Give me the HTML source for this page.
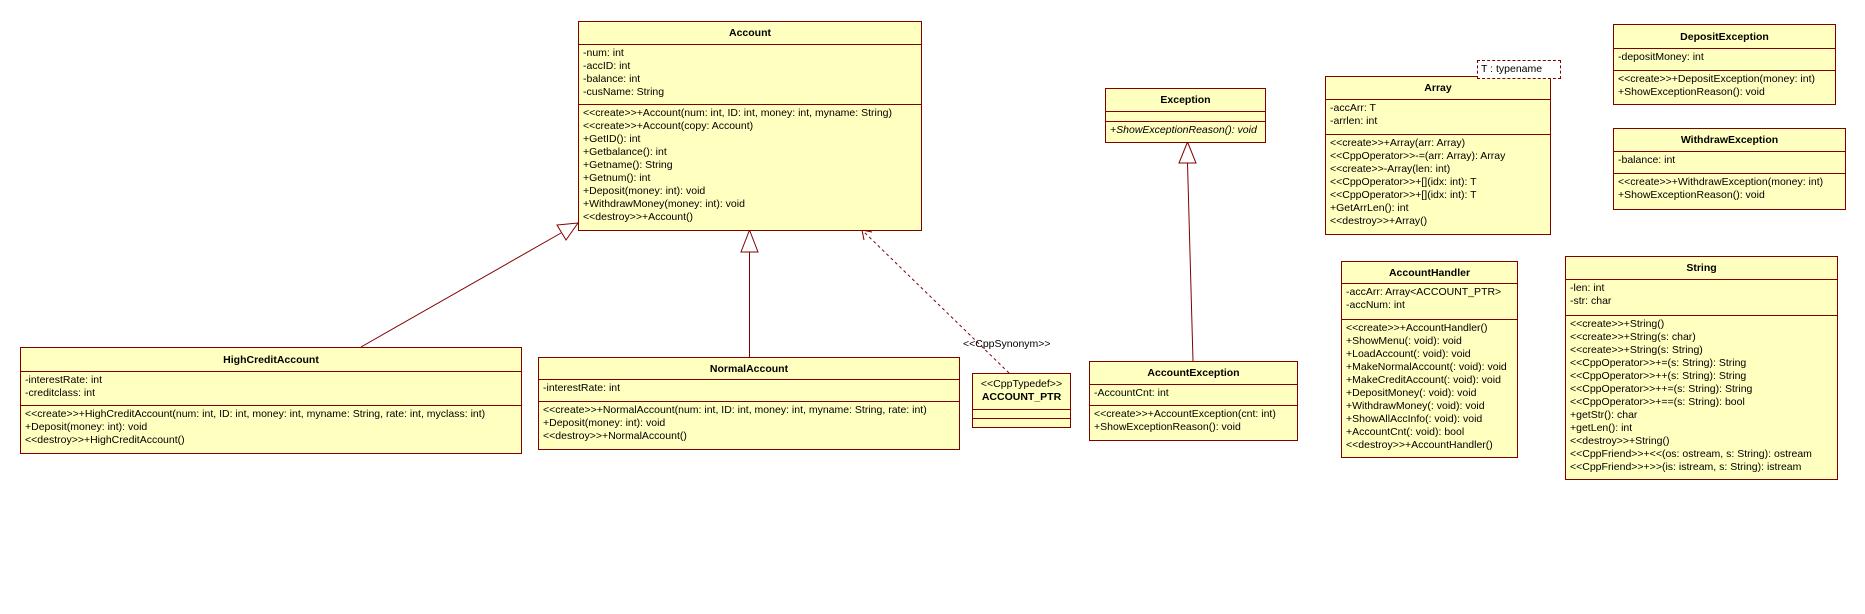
<!DOCTYPE html>
<html><head><meta charset="utf-8"><style>
html,body{margin:0;padding:0;background:#fff;}
body{width:1865px;height:614px;position:relative;overflow:hidden;font-family:"Liberation Sans",Tahoma,sans-serif;font-size:10.5px;color:#000;}
.b{position:absolute;box-sizing:border-box;border:1px solid #800000;background:#ffffc0;}
.b>div{box-sizing:border-box;overflow:hidden;white-space:nowrap;}
.h{text-align:center;font-weight:bold;display:flex;align-items:center;justify-content:center;}
.c{border-top:1px solid #800000;padding:2px 0 0 4px;line-height:13px;}
i{font-style:italic;}
svg{position:absolute;left:0;top:0;}
</style></head><body>
<svg width="1865" height="614">
<g stroke="#800000" fill="none" stroke-width="1">
<line x1="361" y1="347" x2="561" y2="233"/>
<polygon points="578,223 557,225 566,240" fill="#fff"/>
<line x1="749.5" y1="252" x2="749.5" y2="357"/>
<polygon points="749.5,230 741,252 758,252" fill="#fff"/>
<line x1="1187.5" y1="163" x2="1193" y2="361"/>
<polygon points="1187.5,142 1179,163 1196,163" fill="#fff"/>
<line x1="1009" y1="373" x2="862" y2="230" stroke-dasharray="3,3"/>
<polyline points="864,240 862,230 872,232"/>
</g>
<text x="963" y="347" font-family="Liberation Sans,sans-serif" font-size="10.5">&lt;&lt;CppSynonym&gt;&gt;</text>
</svg>

<div class="b" style="left:578px;top:21px;width:344px;height:210px">
<div class="h" style="height:22px">Account</div>
<div class="c" style="height:60px">-num: int<br>-accID: int<br>-balance: int<br>-cusName: String</div>
<div class="c">&lt;&lt;create&gt;&gt;+Account(num: int, ID: int, money: int, myname: String)<br>&lt;&lt;create&gt;&gt;+Account(copy: Account)<br>+GetID(): int<br>+Getbalance(): int<br>+Getname(): String<br>+Getnum(): int<br>+Deposit(money: int): void<br>+WithdrawMoney(money: int): void<br>&lt;&lt;destroy&gt;&gt;+Account()</div>
</div>

<div class="b" style="left:20px;top:347px;width:502px;height:107px">
<div class="h" style="height:23px">HighCreditAccount</div>
<div class="c" style="height:34px">-interestRate: int<br>-creditclass: int</div>
<div class="c">&lt;&lt;create&gt;&gt;+HighCreditAccount(num: int, ID: int, money: int, myname: String, rate: int, myclass: int)<br>+Deposit(money: int): void<br>&lt;&lt;destroy&gt;&gt;+HighCreditAccount()</div>
</div>

<div class="b" style="left:538px;top:357px;width:422px;height:93px">
<div class="h" style="height:21px">NormalAccount</div>
<div class="c" style="height:22px">-interestRate: int</div>
<div class="c">&lt;&lt;create&gt;&gt;+NormalAccount(num: int, ID: int, money: int, myname: String, rate: int)<br>+Deposit(money: int): void<br>&lt;&lt;destroy&gt;&gt;+NormalAccount()</div>
</div>

<div class="b" style="left:972px;top:373px;width:99px;height:55px">
<div style="height:35px;text-align:center;line-height:13px;padding-top:4px"><span style="font-weight:normal">&lt;&lt;CppTypedef&gt;&gt;</span><br><b>ACCOUNT_PTR</b></div>
<div class="c" style="height:9px;padding:0"></div>
<div class="c" style="padding:0"></div>
</div>

<div class="b" style="left:1105px;top:88px;width:161px;height:55px">
<div class="h" style="height:22px">Exception</div>
<div class="c" style="height:10px;padding:0"></div>
<div class="c"><i>+ShowExceptionReason(): void</i></div>
</div>

<div class="b" style="left:1325px;top:76px;width:226px;height:159px">
<div class="h" style="height:22px">Array</div>
<div class="c" style="height:35px">-accArr: T<br>-arrlen: int</div>
<div class="c">&lt;&lt;create&gt;&gt;+Array(arr: Array)<br>&lt;&lt;CppOperator&gt;&gt;-=(arr: Array): Array<br>&lt;&lt;create&gt;&gt;-Array(len: int)<br>&lt;&lt;CppOperator&gt;&gt;+[](idx: int): T<br>&lt;&lt;CppOperator&gt;&gt;+[](idx: int): T<br>+GetArrLen(): int<br>&lt;&lt;destroy&gt;&gt;+Array()</div>
</div>
<div style="position:absolute;left:1477px;top:60px;width:84px;height:19px;box-sizing:border-box;border:1px dashed #800000;background:#fff;line-height:17px;padding-left:3px;white-space:nowrap">T : typename</div>

<div class="b" style="left:1089px;top:361px;width:209px;height:80px">
<div class="h" style="height:22px">AccountException</div>
<div class="c" style="height:21px">-AccountCnt: int</div>
<div class="c">&lt;&lt;create&gt;&gt;+AccountException(cnt: int)<br>+ShowExceptionReason(): void</div>
</div>

<div class="b" style="left:1341px;top:261px;width:177px;height:197px">
<div class="h" style="height:21px">AccountHandler</div>
<div class="c" style="height:36px">-accArr: Array&lt;ACCOUNT_PTR&gt;<br>-accNum: int</div>
<div class="c">&lt;&lt;create&gt;&gt;+AccountHandler()<br>+ShowMenu(: void): void<br>+LoadAccount(: void): void<br>+MakeNormalAccount(: void): void<br>+MakeCreditAccount(: void): void<br>+DepositMoney(: void): void<br>+WithdrawMoney(: void): void<br>+ShowAllAccInfo(: void): void<br>+AccountCnt(: void): bool<br>&lt;&lt;destroy&gt;&gt;+AccountHandler()</div>
</div>

<div class="b" style="left:1613px;top:24px;width:223px;height:81px">
<div class="h" style="height:23px">DepositException</div>
<div class="c" style="height:22px">-depositMoney: int</div>
<div class="c">&lt;&lt;create&gt;&gt;+DepositException(money: int)<br>+ShowExceptionReason(): void</div>
</div>

<div class="b" style="left:1613px;top:128px;width:233px;height:82px">
<div class="h" style="height:22px">WithdrawException</div>
<div class="c" style="height:22px">-balance: int</div>
<div class="c">&lt;&lt;create&gt;&gt;+WithdrawException(money: int)<br>+ShowExceptionReason(): void</div>
</div>

<div class="b" style="left:1565px;top:256px;width:273px;height:224px">
<div class="h" style="height:22px">String</div>
<div class="c" style="height:36px">-len: int<br>-str: char</div>
<div class="c">&lt;&lt;create&gt;&gt;+String()<br>&lt;&lt;create&gt;&gt;+String(s: char)<br>&lt;&lt;create&gt;&gt;+String(s: String)<br>&lt;&lt;CppOperator&gt;&gt;+=(s: String): String<br>&lt;&lt;CppOperator&gt;&gt;++(s: String): String<br>&lt;&lt;CppOperator&gt;&gt;++=(s: String): String<br>&lt;&lt;CppOperator&gt;&gt;+==(s: String): bool<br>+getStr(): char<br>+getLen(): int<br>&lt;&lt;destroy&gt;&gt;+String()<br>&lt;&lt;CppFriend&gt;&gt;+&lt;&lt;(os: ostream, s: String): ostream<br>&lt;&lt;CppFriend&gt;&gt;+&gt;&gt;(is: istream, s: String): istream</div>
</div>
</body></html>
